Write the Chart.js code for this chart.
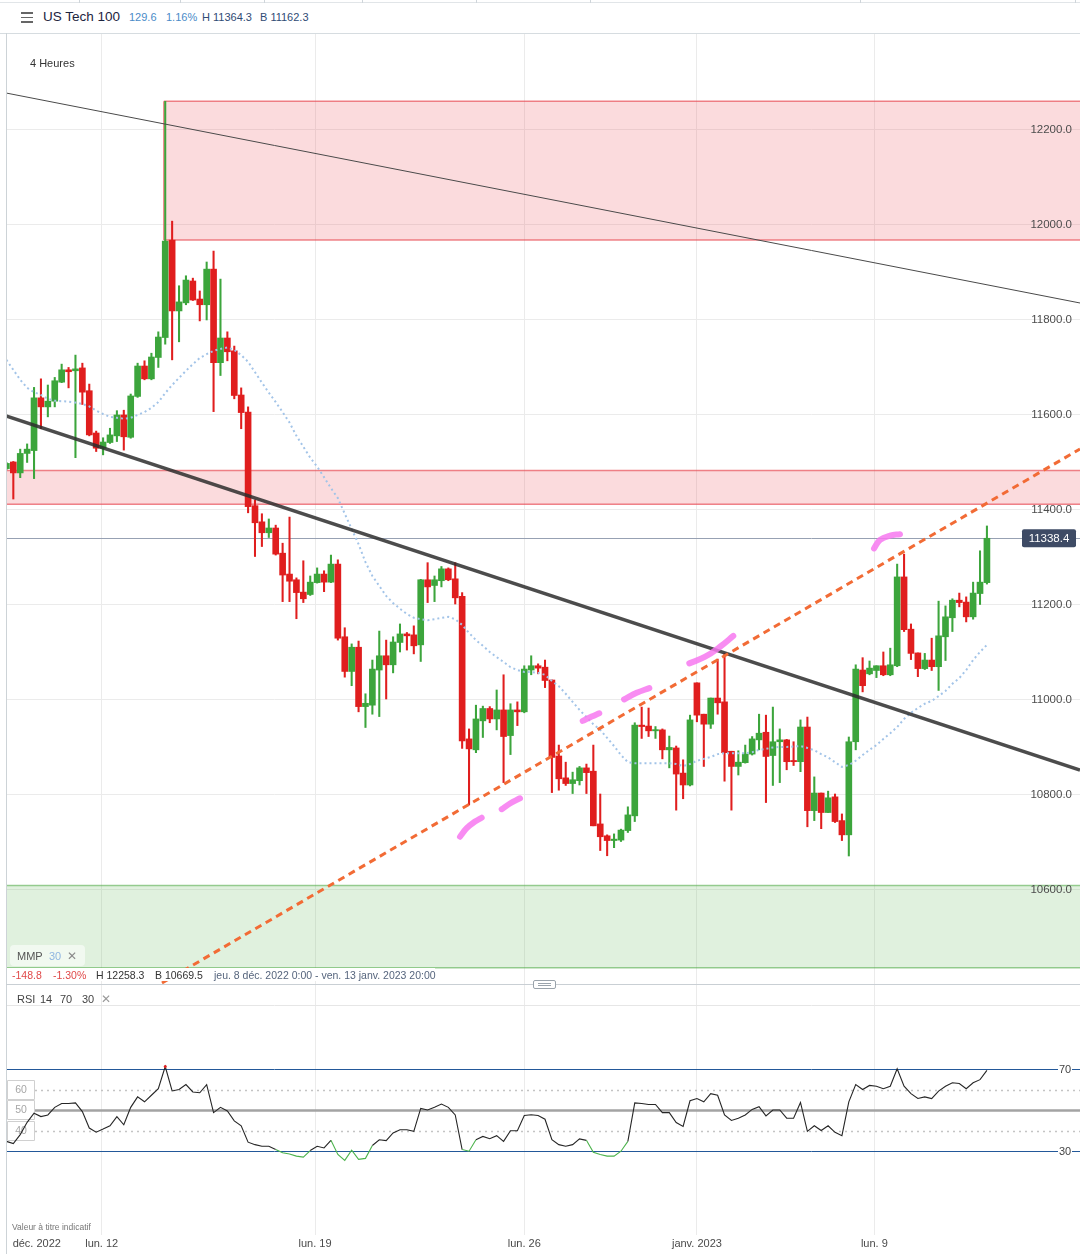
<!DOCTYPE html>
<html lang="fr">
<head>
<meta charset="utf-8">
<title>US Tech 100 - 4 Heures</title>
<script src="https://cdn.jsdelivr.net/npm/chart.js@4.4.1/dist/chart.umd.min.js"></script>
<style>
  html, body { margin: 0; padding: 0; background: #fff; }
  body { width: 1080px; height: 1254px; position: relative; overflow: hidden;
         font-family: "Liberation Sans", Arial, sans-serif; }
  canvas { position: absolute; left: 0; }
  #priceChart { top: 34px; }
  #rsiChart { top: 985px; }
  .t { position: absolute; white-space: nowrap; line-height: 1; z-index: 6; }
  .hl { position: absolute; height: 1px; z-index: 4; }
  .vl { position: absolute; width: 1px; z-index: 4; }
</style>
</head>
<body>
<canvas id="priceChart" width="1080" height="951"></canvas>
<canvas id="rsiChart" width="1080" height="269"></canvas>

<!-- top bar -->
<div class="hl" style="left:0;top:2px;width:1080px;background:#e1e5e8"></div>
<div class="vl" style="left:79px;top:0;height:3px;background:#cfd5da"></div>
<div class="vl" style="left:180px;top:0;height:3px;background:#cfd5da"></div>
<div class="vl" style="left:264px;top:0;height:3px;background:#cfd5da"></div>
<div class="vl" style="left:362px;top:0;height:3px;background:#cfd5da"></div>
<div class="vl" style="left:476px;top:0;height:3px;background:#cfd5da"></div>
<div class="vl" style="left:590px;top:0;height:3px;background:#cfd5da"></div>
<div class="vl" style="left:860px;top:0;height:3px;background:#cfd5da"></div>
<div class="vl" style="left:1075px;top:0;height:3px;background:#cfd5da"></div>
<div class="hl" style="left:0;top:33px;width:1080px;background:#d6dce0"></div>
<div class="vl" style="left:6px;top:33px;height:1221px;background:#cdd3d7"></div>

<div class="hl" style="left:21px;top:12px;width:12px;height:1.5px;background:#666"></div>
<div class="hl" style="left:21px;top:16.5px;width:12px;height:1.5px;background:#666"></div>
<div class="hl" style="left:21px;top:21px;width:12px;height:1.5px;background:#666"></div>
<div class="t" style="left:43px;top:10px;font-size:13.5px;color:#1d2440">US Tech 100</div>
<div class="t" style="left:129px;top:12px;font-size:11px;color:#4a8bc8">129.6</div>
<div class="t" style="left:166px;top:12px;font-size:11px;color:#4a8bc8">1.16%</div>
<div class="t" style="left:202px;top:12px;font-size:11px;color:#2f4b75">H 11364.3</div>
<div class="t" style="left:260px;top:12px;font-size:11px;color:#2f4b75">B 11162.3</div>

<div class="t" style="left:30px;top:57.5px;font-size:11px;color:#333">4 Heures</div>

<!-- legend box of the moving average -->
<div style="position:absolute;left:10px;top:945px;width:75px;height:21px;border-radius:4px;background:rgba(255,255,255,0.55);z-index:5"></div>
<div class="t" style="left:17px;top:950.5px;font-size:11px;color:#555">MMP</div>
<div class="t" style="left:49px;top:950.5px;font-size:11px;color:#8fb6e0">30</div>
<div class="t" style="left:67px;top:949.5px;font-size:12px;color:#8a8a8a">&#x2715;</div>

<!-- info strip -->
<div style="position:absolute;left:7px;top:968px;width:428px;height:13px;background:#fff;z-index:5"></div>
<div class="t" style="left:12px;top:970px;font-size:10.5px;color:#e04848">-148.8</div>
<div class="t" style="left:53px;top:970px;font-size:10.5px;color:#e04848">-1.30%</div>
<div class="t" style="left:96px;top:970px;font-size:10.5px;color:#333">H 12258.3</div>
<div class="t" style="left:155px;top:970px;font-size:10.5px;color:#333">B 10669.5</div>
<div class="t" style="left:214px;top:970px;font-size:10.5px;color:#56657d">jeu. 8 déc. 2022 0:00 - ven. 13 janv. 2023 20:00</div>

<div class="hl" style="left:6px;top:984px;width:1074px;background:#c9cfd4"></div>
<div style="position:absolute;left:533px;top:980px;width:21px;height:7px;border:1px solid #9aa3ab;border-radius:2px;background:#fff;z-index:6"></div>
<div class="hl" style="left:538px;top:983px;width:13px;background:#9aa3ab;z-index:7"></div>
<div class="hl" style="left:538px;top:985px;width:13px;background:#9aa3ab;z-index:7"></div>

<div class="t" style="left:17px;top:994px;font-size:11px;color:#444">RSI</div>
<div class="t" style="left:40px;top:994px;font-size:11px;color:#444">14</div>
<div class="t" style="left:60px;top:994px;font-size:11px;color:#444">70</div>
<div class="t" style="left:82px;top:994px;font-size:11px;color:#444">30</div>
<div class="t" style="left:101px;top:993px;font-size:12px;color:#999">&#x2715;</div>

<div class="t" style="left:12px;top:1222.5px;font-size:8.5px;color:#777">Valeur à titre indicatif</div>

<script>
// ---- data: 4-hour candles, 8 Dec 2022 0:00 -> 13 Jan 2023 20:00 ----
const open = [
  11485,11499,11476,11517,11523,11634,11615,11627,11667,11693,
  11691,11697,11649,11560,11528,11540,11554,11598,11551,11637,
  11701,11674,11719,11761,11966,11817,11834,11880,11842,11830,
  11905,11708,11760,11733,11640,11604,11407,11373,11350,11360,
  11307,11263,11251,11225,11220,11245,11263,11246,11284,11131,
  11058,11109,10984,10987,11061,11091,11072,11119,11137,11135,
  11114,11251,11239,11249,11274,11253,11216,10916,10893,10954,
  10980,10958,10977,10923,10977,10973,11061,11070,11067,11040,
  10880,10834,10822,10828,10855,10848,10737,10712,10702,10703,
  10723,10754,10945,10943,10933,10935,10893,10897,10844,10819,
  11034,10968,10947,11002,10994,10890,10858,10866,10884,10914,
  10930,10881,10910,10914,10870,10868,10941,10765,10802,10761,
  10794,10744,10714,10910,11061,11053,11060,11070,11051,11070,
  11257,11147,11097,11064,11082,11068,11131,11171,11208,11204,
  11173,11222,11245
];
const high = [
  11498,11500,11526,11537,11656,11674,11661,11677,11705,11698,
  11724,11707,11663,11564,11550,11570,11607,11608,11642,11707,
  11712,11728,11773,12258.3,12006,11870,11891,11886,11859,11920,
  11943,11884,11773,11743,11655,11615,11419,11390,11379,11366,
  11328,11383,11255,11291,11259,11276,11270,11303,11293,11150,
  11116,11122,11011,11082,11143,11124,11131,11158,11140,11154,
  11252,11287,11259,11279,11276,11287,11224,10937,10987,10985,
  10984,11019,11051,10990,10994,11070,11091,11074,11082,11040,
  10903,10867,10846,10858,10863,10903,10800,10714,10716,10726,
  10773,10950,10983,10981,10942,10937,10922,10901,10872,10966,
  11034,10968,11002,11084,11096,10890,10891,10903,10921,10968,
  10966,10983,10937,10915,10910,10956,10962,10836,10802,10806,
  10800,10758,10920,11072,11087,11080,11070,11099,11107,11284,
  11305,11158,11097,11096,11128,11206,11196,11211,11223,11215,
  11246,11312,11364.3
];
const low = [
  11483,11421,11466,11498,11464,11569,11594,11615,11666,11655,
  11508,11620,11554,11521,11514,11538,11542,11524,11549,11635,
  11672,11672,11698,11747,11714,11752,11830,11839,11796,11798,
  11605,11681,11712,11632,11569,11392,11300,11321,11340,11303,
  11205,11205,11169,11203,11218,11244,11226,11245,11124,11046,
  11028,10973,10940,10968,10963,11000,11055,11099,11103,11095,
  11079,11203,11205,11236,11249,11200,10896,10777,10887,10919,
  10950,10935,10824,10883,10944,10971,11051,11053,11024,10803,
  10808,10818,10801,10819,10801,10733,10681,10670,10687,10700,
  10719,10742,10917,10921,10917,10874,10855,10766,10790,10817,
  10952,10858,10938,10968,10827,10766,10840,10865,10882,10893,
  10782,10818,10824,10851,10860,10847,10731,10744,10727,10761,
  10740,10702,10669.5,10893,11015,11051,11045,11049,11049,11068,
  11142,11083,11047,11062,11060,11018,11081,11142,11194,11162.3,
  11168,11199,11242
];
const close = [
  11496,11476,11517,11526,11634,11615,11627,11670,11693,11689,
  11695,11646,11556,11528,11541,11556,11598,11552,11638,11701,
  11674,11720,11762,11964,11817,11836,11882,11840,11830,11905,
  11708,11760,11731,11639,11603,11405,11371,11350,11360,11305,
  11261,11248,11224,11211,11246,11263,11246,11284,11128,11058,
  11109,10984,10991,11063,11091,11072,11120,11137,11133,11112,
  11251,11236,11251,11274,11251,11213,10912,10895,10958,10980,
  10958,10977,10921,10977,10973,11063,11070,11065,11039,10877,
  10832,10822,10830,10855,10845,10733,10710,10702,10705,10724,
  10756,10945,10942,10933,10935,10893,10898,10842,10819,10956,
  10966,10947,11002,10992,10887,10858,10867,10884,10916,10928,
  10879,10910,10914,10868,10868,10941,10765,10802,10761,10792,
  10742,10714,10910,11063,11028,11065,11070,11051,11072,11257,
  11146,11096,11064,11082,11068,11133,11173,11208,11203,11173,
  11223,11246,11338.4
];
// MMP 30 (moving average) as drawn on the chart
const mma30 = [
  11714,11693,11672,11655,11646,11640,11632,11628,11627,11626,
  11624,11621,11616,11607,11600,11594,11592,11590,11592,11598,
  11604,11613,11625,11644,11661,11676,11691,11705,11718,11726,
  11733,11737,11740,11735,11724,11710,11688,11666,11645,11625,
  11604,11582,11554,11531,11508,11489,11467,11444,11423,11390,
  11358,11326,11288,11259,11238,11217,11202,11190,11179,11171,
  11168,11166,11168,11171,11173,11168,11156,11139,11124,11112,
  11099,11088,11078,11067,11061,11057,11057,11055,11051,11038,
  11027,11011,10994,10977,10962,10947,10935,10918,10901,10882,
  10867,10865,10865,10865,10865,10865,10865,10863,10859,10863,
  10870,10874,10878,10884,10886,10886,10886,10886,10888,10893,
  10895,10898,10899,10899,10900,10901,10897,10892,10884,10877,
  10867,10857,10861,10870,10882,10893,10903,10916,10928,10941,
  10958,10971,10981,10990,10996,11006,11017,11032,11044,11061,
  11082,11099,11114
];
// RSI 14
const rsi14 = [
  34.7,33.6,38.0,44.0,48.4,46.8,47.6,51.3,53.2,53.2,
  53.5,49.2,41.2,39.2,40.7,42.3,46.8,42.8,51.3,56.4,
  54.0,57.2,60.4,71.2,59.3,60.0,62.4,58.8,58.4,62.4,
  48.7,51.3,49.5,44.7,42.3,34.3,33.1,32.3,32.3,30.7,
  29.1,28.5,27.5,27.0,30.2,32.3,31.5,35.2,28.3,25.4,
  30.4,25.9,26.4,32.7,35.5,35.1,38.8,40.4,40.4,39.6,
  50.8,50.0,51.3,52.9,51.3,47.6,30.7,29.9,35.5,37.1,
  36.0,37.5,34.7,39.9,39.9,47.3,47.7,47.3,45.5,35.5,
  33.1,32.3,33.1,35.9,35.2,29.4,28.3,27.5,27.5,29.9,
  34.7,53.5,53.2,52.7,52.7,48.7,48.7,43.9,42.0,54.5,
  55.6,54.0,58.0,57.2,47.6,44.9,46.0,47.6,50.3,51.6,
  47.1,50.0,50.0,46.0,46.0,53.7,39.6,42.3,40.0,42.3,
  39.1,37.5,54.0,62.4,60.0,62.0,61.6,60.4,61.6,70.1,
  61.6,58.0,55.6,56.4,55.6,59.2,61.6,63.3,62.9,60.4,
  63.3,64.8,69.3
];
const lastPrice = 11338.4;
const priceTicks = [10600, 10800, 11000, 11200, 11400, 11600, 11800, 12000, 12200];
// day separators (candle index) and bottom axis labels
const weekStarts = [13.8, 44.7, 75.0, 100.0, 125.7];
const axisLabelAt = [4.4, 13.8, 44.7, 75.0, 100.0, 125.7];
const axisLabels = ['déc. 2022', 'lun. 12', 'lun. 19', 'lun. 26', 'janv. 2023', 'lun. 9'];
// zones: [from candle index (null = whole width), low, high]
const zoneFrom = [22.8, null, null];
const zoneLow = [11966.3, 11410, 10434];
const zoneHigh = [12258.3, 11481, 10607.6];
// drawn lines (candle index, price)
const resistLine = [{x: -0.06, y: 12275.8}, {x: 155.48, y: 11833.7}];
const downTrend = [{x: -0.06, y: 11595.8}, {x: 155.48, y: 10850.5}];
const upTrend = [{x: 22.53, y: 10402}, {x: 155.48, y: 11526.3}];
const marks = [
  [{x: 65.69, y: 10710}, {x: 66.66, y: 10728}, {x: 67.86, y: 10742}, {x: 68.83, y: 10750}],
  [{x: 71.73, y: 10768}, {x: 72.93, y: 10780}, {x: 74.38, y: 10791}],
  [{x: 83.46, y: 10954}, {x: 84.77, y: 10963}, {x: 85.86, y: 10970}],
  [{x: 89.45, y: 10999}, {x: 91.28, y: 11013}, {x: 93.11, y: 11023}],
  [{x: 98.9, y: 11075}, {x: 101.2, y: 11089}, {x: 103.35, y: 11110}, {x: 105.27, y: 11133}],
  [{x: 125.65, y: 11317}, {x: 126.52, y: 11335}, {x: 127.97, y: 11344}, {x: 129.41, y: 11347}]
];
const rsiLevels = [70, 60, 50, 40, 30];

// ---- charts ----
const FONT = '"Liberation Sans", Arial, sans-serif';
Chart.defaults.font.family = FONT;

const UP = '#3ca53c', DOWN = '#e01e1e';
const candleColors = open.map((o, i) => close[i] >= o ? UP : DOWN);
const X_MIN = -0.06, X_MAX = 155.48;

const priceExtras = {
  id: 'priceExtras',
  beforeDatasetsDraw(chart) {
    const {ctx, chartArea: a, scales: {x, y}} = chart;
    ctx.save();
    ctx.beginPath();
    ctx.rect(a.left, a.top, a.right - a.left, a.bottom - a.top);
    ctx.clip();
    zoneLow.forEach((lo, k) => {
      const red = k < 2;
      const x0 = zoneFrom[k] === null ? a.left : x.getPixelForValue(zoneFrom[k]);
      const top = y.getPixelForValue(zoneHigh[k]);
      const bot = y.getPixelForValue(lo);
      ctx.fillStyle = red ? 'rgba(235,75,85,0.2)' : 'rgba(100,185,90,0.2)';
      ctx.fillRect(x0, top, a.right - x0, bot - top);
      ctx.strokeStyle = red ? 'rgba(232,80,88,0.7)' : 'rgba(90,175,80,0.6)';
      ctx.lineWidth = 1.5;
      ctx.beginPath();
      ctx.moveTo(x0, top); ctx.lineTo(a.right, top);
      ctx.moveTo(x0, bot); ctx.lineTo(a.right, bot);
      if (zoneFrom[k] !== null) { ctx.moveTo(x0, top); ctx.lineTo(x0, bot); }
      ctx.stroke();
    });
    const ly = Math.round(y.getPixelForValue(lastPrice)) + 0.5;
    ctx.strokeStyle = '#97a1b3';
    ctx.lineWidth = 1;
    ctx.beginPath(); ctx.moveTo(a.left, ly); ctx.lineTo(a.right, ly); ctx.stroke();
    ctx.restore();
  },
  afterDraw(chart) {
    const {ctx, scales: {y}} = chart;
    ctx.save();
    ctx.font = '11.5px ' + FONT;
    ctx.fillStyle = '#4d4d4d';
    ctx.textAlign = 'right';
    ctx.textBaseline = 'middle';
    priceTicks.forEach(v => ctx.fillText(v.toFixed(1), 1072, y.getPixelForValue(v) + 0.5));
    const ly = y.getPixelForValue(lastPrice);
    ctx.fillStyle = '#3e4b65';
    ctx.beginPath();
    ctx.roundRect(1022, ly - 9, 54, 18, 2);
    ctx.fill();
    ctx.fillStyle = '#fff';
    ctx.textAlign = 'center';
    ctx.fillText(lastPrice.toFixed(1), 1049, ly + 0.5);
    ctx.restore();
  }
};

const lineDs = (data, color, width, extra) => Object.assign({
  type: 'line', data, borderColor: color, borderWidth: width,
  pointRadius: 0, fill: false, tension: 0
}, extra);

new Chart(document.getElementById('priceChart'), {
  type: 'bar',
  data: {
    datasets: [
      {data: low.map((l, i) => ({x: i, y: [l, high[i]]})), backgroundColor: candleColors,
       barThickness: 1.4, grouped: false, borderWidth: 0, order: 10},
      {data: open.map((o, i) => ({x: i, y: [o, close[i]]})), backgroundColor: candleColors,
       barThickness: 6, minBarLength: 1.2, grouped: false, borderWidth: 0, order: 9},
      lineDs(mma30.map((v, i) => ({x: i, y: v})), '#a3c4e8', 2,
             {borderDash: [2, 3], order: 6}),
      lineDs(resistLine, '#4a4a4a', 1, {order: 5}),
      lineDs(downTrend, 'rgba(45,45,45,0.85)', 3.5, {order: 4}),
      lineDs(upTrend, '#f26b35', 3, {borderDash: [7, 5], order: 3}),
      ...marks.map(m => lineDs(m, 'rgba(247,120,240,0.85)', 6,
             {borderCapStyle: 'round', tension: 0.4, order: 1}))
    ]
  },
  options: {
    responsive: false,
    animation: false,
    events: [],
    layout: {padding: {left: 6, right: 0, top: 0, bottom: 0}},
    plugins: {legend: {display: false}, tooltip: {enabled: false}},
    scales: {
      x: {
        type: 'linear', min: X_MIN, max: X_MAX, offset: false,
        afterBuildTicks: s => { s.ticks = weekStarts.map(v => ({value: v})); },
        ticks: {display: false},
        grid: {color: '#ebebeb', drawTicks: false, offset: false},
        border: {display: false}
      },
      y: {
        type: 'linear', position: 'right', min: 10397.9, max: 12400,
        afterBuildTicks: s => { s.ticks = priceTicks.map(v => ({value: v})); },
        ticks: {display: false},
        grid: {color: '#ebebeb', drawTicks: false},
        border: {display: false}
      }
    }
  },
  plugins: [priceExtras]
});

const rsiExtras = {
  id: 'rsiExtras',
  beforeDatasetsDraw(chart) {
    const {ctx, chartArea: a, scales: {y}} = chart;
    ctx.save();
    ctx.strokeStyle = '#e6e6e6';
    ctx.lineWidth = 1;
    ctx.beginPath(); ctx.moveTo(a.left, 20.5); ctx.lineTo(a.right, 20.5); ctx.stroke();
    rsiLevels.forEach(v => {
      const py = Math.round(y.getPixelForValue(v)) + 0.5;
      ctx.setLineDash([]);
      if (v === 70 || v === 30) {
        ctx.strokeStyle = '#235899'; ctx.lineWidth = 1;
        ctx.beginPath(); ctx.moveTo(a.left, py); ctx.lineTo(a.right, py); ctx.stroke();
      } else if (v === 50) {
        ctx.strokeStyle = '#a3a3a3'; ctx.lineWidth = 2.5;
        ctx.beginPath(); ctx.moveTo(35, py); ctx.lineTo(a.right, py); ctx.stroke();
      } else {
        ctx.strokeStyle = '#c4c4c4'; ctx.lineWidth = 1.5; ctx.setLineDash([2, 4]);
        ctx.beginPath(); ctx.moveTo(35, py); ctx.lineTo(a.right, py); ctx.stroke();
      }
    });
    ctx.setLineDash([]);
    ctx.font = '10.5px ' + FONT;
    ctx.textAlign = 'center';
    ctx.textBaseline = 'middle';
    [60, 50, 40].forEach(v => {
      const py = y.getPixelForValue(v);
      ctx.fillStyle = '#fff';
      ctx.strokeStyle = '#d0d0d0';
      ctx.lineWidth = 1;
      ctx.beginPath(); ctx.rect(7.5, Math.round(py) - 9.5, 27, 19); ctx.fill(); ctx.stroke();
      ctx.fillStyle = '#a6a6a6';
      ctx.fillText(String(v), 21, py + 0.5);
    });
    ctx.font = '11px ' + FONT;
    [70, 30].forEach(v => {
      const py = y.getPixelForValue(v);
      ctx.fillStyle = '#fff';
      ctx.fillRect(1058, py - 6, 14, 12);
      ctx.fillStyle = '#444';
      ctx.fillText(String(v), 1065, py + 0.5);
    });
    ctx.restore();
  }
};

new Chart(document.getElementById('rsiChart'), {
  type: 'line',
  data: {
    datasets: [{
      data: rsi14.map((v, i) => ({x: i, y: v})),
      borderColor: '#262626', borderWidth: 1.1, fill: false, tension: 0,
      pointRadius: c => (rsi14[c.dataIndex] > 70.5 ? 1.5 : 0),
      pointBackgroundColor: '#e02020', pointBorderWidth: 0,
      segment: {
        borderColor: c => (c.p0.parsed.y < 30 || c.p1.parsed.y < 30) ? '#4cb34c' : undefined
      }
    }]
  },
  options: {
    responsive: false,
    animation: false,
    events: [],
    layout: {padding: {left: 6, right: 0, top: 0, bottom: 0}},
    plugins: {legend: {display: false}, tooltip: {enabled: false}},
    scales: {
      x: {
        type: 'linear', min: X_MIN, max: X_MAX, offset: false,
        afterBuildTicks: s => { s.ticks = axisLabelAt.map(v => ({value: v})); },
        ticks: {
          autoSkip: false, maxRotation: 0, minRotation: 0, padding: 3,
          color: '#4a4a4a', font: {size: 11},
          callback: (v, i) => axisLabels[i]
        },
        grid: {
          color: c => (c.index === 0 ? 'rgba(0,0,0,0)' : '#ebebeb'),
          drawTicks: false, offset: false
        },
        border: {display: false}
      },
      y: {
        type: 'linear', min: -10.88, max: 110.98, display: false
      }
    }
  },
  plugins: [rsiExtras]
});
</script>
</body>
</html>
